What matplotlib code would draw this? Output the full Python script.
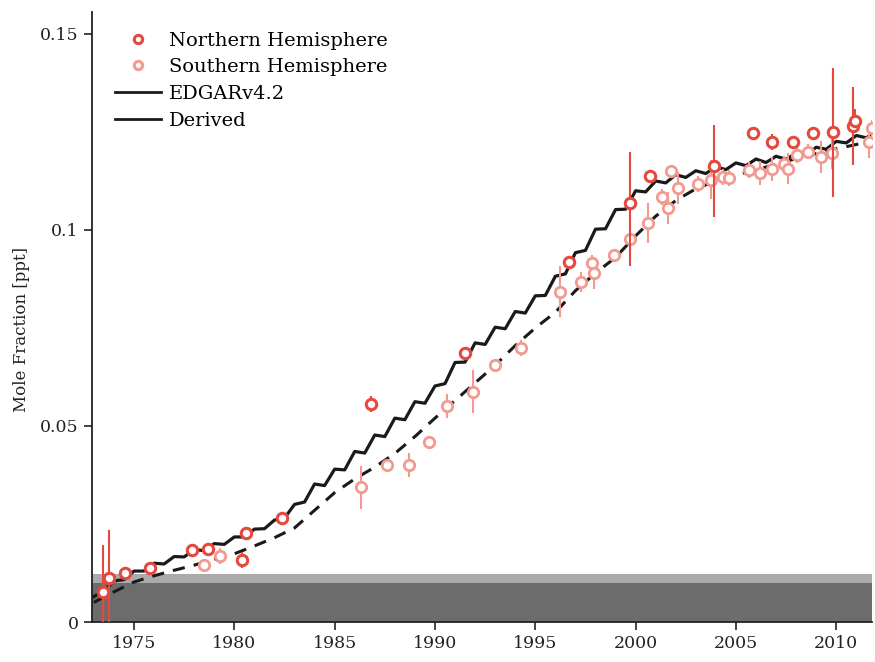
import numpy as np
import matplotlib
matplotlib.use("Agg")
import matplotlib.pyplot as plt
from matplotlib.lines import Line2D

plt.rcParams['font.family'] = ['DejaVu Serif']

###DATA###
# EDGARv4.2 (solid, with seasonal wiggle) - half year steps
edgar_years = [1973.0, 1973.5, 1974.0, 1974.5, 1975.0, 1975.5, 1976.0, 1976.5, 1977.0, 1977.5,
               1978.0, 1978.5, 1979.0, 1979.5, 1980.0, 1980.5, 1981.0, 1981.5, 1982.0, 1982.5,
               1983.0, 1983.5, 1984.0, 1984.5, 1985.0, 1985.5, 1986.0, 1986.5, 1987.0, 1987.5,
               1988.0, 1988.5, 1989.0, 1989.5, 1990.0, 1990.5, 1991.0, 1991.5, 1992.0, 1992.5,
               1993.0, 1993.5, 1994.0, 1994.5, 1995.0, 1995.5, 1996.0, 1996.5, 1997.0, 1997.5,
               1998.0, 1998.5, 1999.0, 1999.5, 2000.0, 2000.5, 2001.0, 2001.5, 2002.0, 2002.5,
               2003.0, 2003.5, 2004.0, 2004.5, 2005.0, 2005.5, 2006.0, 2006.5, 2007.0, 2007.5,
               2008.0, 2008.5, 2009.0, 2009.5, 2010.0, 2010.5, 2011.0, 2011.5, 2011.8]
edgar_vals = [0.0065, 0.0080, 0.0105, 0.0108, 0.0130, 0.0130, 0.0150, 0.0148, 0.0167, 0.0166,
              0.0185, 0.0182, 0.0200, 0.0198, 0.0217, 0.0217, 0.0237, 0.0238, 0.0260, 0.0265,
              0.0300, 0.0306, 0.0352, 0.0348, 0.0390, 0.0388, 0.0435, 0.0431, 0.0477, 0.0473,
              0.0520, 0.0516, 0.0562, 0.0558, 0.0602, 0.0608, 0.0662, 0.0663, 0.0712, 0.0708,
              0.0752, 0.0748, 0.0792, 0.0788, 0.0832, 0.0833, 0.0882, 0.0888, 0.0942, 0.0948,
              0.1002, 0.1003, 0.1052, 0.1053, 0.1100, 0.1097, 0.1125, 0.1120, 0.1141, 0.1134,
              0.1151, 0.1144, 0.1161, 0.1154, 0.1171, 0.1164, 0.1181, 0.1172, 0.1188, 0.1180,
              0.1196, 0.1191, 0.1211, 0.1206, 0.1226, 0.1222, 0.1241, 0.1235, 0.1245]

# Derived (dashed)
derived_years = [1973.0, 1974.0, 1975.0, 1976.0, 1977.0, 1978.0, 1979.0, 1980.0, 1981.0, 1982.0,
                 1983.0, 1984.0, 1985.0, 1986.0, 1987.0, 1988.0, 1989.0, 1990.0, 1991.0, 1992.0,
                 1993.0, 1994.0, 1995.0, 1996.0, 1997.0, 1998.0, 1999.0, 2000.0, 2001.0, 2002.0,
                 2003.0, 2004.0, 2005.0, 2006.0, 2007.0, 2008.0, 2009.0, 2010.0, 2011.0, 2011.8]
derived_vals = [0.0050, 0.0077, 0.0102, 0.0118, 0.0132, 0.0145, 0.0160, 0.0174, 0.0194, 0.0215,
                0.0240, 0.0285, 0.0330, 0.0365, 0.0395, 0.0430, 0.0473, 0.0520, 0.0565, 0.0610,
                0.0655, 0.0705, 0.0750, 0.0790, 0.0845, 0.0890, 0.0930, 0.0985, 0.1035, 0.1075,
                0.1105, 0.1125, 0.1140, 0.1153, 0.1168, 0.1182, 0.1195, 0.1207, 0.1218, 0.1226]

# Northern Hemisphere obs
nh_years = [1973.45, 1973.75, 1974.55, 1975.8, 1977.9, 1978.7, 1980.4, 1980.6, 1982.4, 1986.8,
            1991.5, 1996.7, 1999.7, 2000.7, 2003.9, 2005.85, 2006.8, 2007.85, 2008.85, 2009.85,
            2010.85, 2010.95]
nh_vals = [0.0077, 0.0112, 0.0125, 0.0138, 0.0183, 0.0185, 0.0158, 0.0226, 0.0265, 0.0556,
           0.0686, 0.0918, 0.1068, 0.1138, 0.1163, 0.1247, 0.1224, 0.1224, 0.1247, 0.1250,
           0.1265, 0.1278]
nh_err_lo = [0.0100, 0.0120, 0.0010, 0.0007, 0.0010, 0.0010, 0.0020, 0.0010, 0.0015, 0.0020,
             0.0010, 0.0010, 0.0160, 0.0010, 0.0130, 0.0015, 0.0020, 0.0015, 0.0010, 0.0165,
             0.0100, 0.0030]
nh_err_hi = [0.0120, 0.0123, 0.0010, 0.0007, 0.0010, 0.0010, 0.0020, 0.0010, 0.0015, 0.0020,
             0.0010, 0.0010, 0.0130, 0.0010, 0.0105, 0.0015, 0.0020, 0.0015, 0.0010, 0.0163,
             0.0100, 0.0030]

# Southern Hemisphere obs
sh_years = [1978.5, 1979.3, 1986.3, 1987.6, 1988.7, 1989.7, 1990.6, 1991.9, 1993.0, 1994.3,
            1996.25, 1997.3, 1997.85, 1997.95, 1998.9, 1999.7, 2000.6, 2001.3, 2001.6, 2001.75,
            2002.1, 2003.1, 2003.75, 2004.35, 2004.65, 2005.65, 2006.2, 2006.8, 2007.4, 2007.6,
            2008.05, 2008.6, 2009.25, 2009.8, 2011.65, 2011.8]
sh_vals = [0.0145, 0.0168, 0.0344, 0.0400, 0.0400, 0.0459, 0.0551, 0.0587, 0.0656, 0.0699,
           0.0842, 0.0867, 0.0916, 0.0890, 0.0936, 0.0977, 0.1018, 0.1084, 0.1056, 0.1150,
           0.1107, 0.1117, 0.1128, 0.1135, 0.1133, 0.1153, 0.1145, 0.1156, 0.1168, 0.1156,
           0.1190, 0.1200, 0.1186, 0.1196, 0.1224, 0.1260]
sh_err = [0.0010, 0.0020, 0.0055, 0.0015, 0.0030, 0.0015, 0.0030, 0.0055, 0.0010, 0.0020,
          0.0065, 0.0025, 0.0020, 0.0040, 0.0015, 0.0040, 0.0050, 0.0020, 0.0040, 0.0010,
          0.0040, 0.0020, 0.0050, 0.0020, 0.0020, 0.0020, 0.0030, 0.0030, 0.0020, 0.0040,
          0.0020, 0.0020, 0.0040, 0.0040, 0.0040, 0.0020]

# grey bands at the bottom
band_dark = (0.0, 0.0099)
band_light = (0.0099, 0.0122)

xticks = [1975, 1980, 1985, 1990, 1995, 2000, 2005, 2010]
yticks = [0, 0.05, 0.1, 0.15]
ytick_labels = ['0', '0.05', '0.1', '0.15']

NH_COL = '#e5493e'
SH_COL = '#f29a90'

###PLOT###
fig = plt.figure(figsize=(8.75, 6.62), dpi=100)
ax = fig.add_axes([0.105, 0.0604, 0.892, 0.9215])

ax.axhspan(band_dark[0], band_dark[1], color='#6c6c6c', lw=0, zorder=0)
ax.axhspan(band_light[0], band_light[1], color='#ababab', lw=0, zorder=0)

ax.plot(edgar_years, edgar_vals, color='#1a1a1a', lw=2.3, zorder=2)
ax.plot(derived_years, derived_vals, color='#1a1a1a', lw=2.2, dashes=(4, 3), zorder=2)

ax.errorbar(sh_years, sh_vals, yerr=sh_err, fmt='o', ms=7.5, mfc='white', mec=SH_COL, mew=2,
            ecolor=SH_COL, elinewidth=1.5, capsize=0, zorder=3)
ax.errorbar(nh_years, nh_vals, yerr=[nh_err_lo, nh_err_hi], fmt='o', ms=7.5, mfc='white',
            mec=NH_COL, mew=2.2, ecolor=NH_COL, elinewidth=1.5, capsize=0, zorder=4)

ax.set_xlim(1972.9, 2011.8)
ax.set_ylim(0, 0.1556)
ax.set_xticks(xticks)
ax.set_yticks(yticks)
ax.set_yticklabels(ytick_labels)
ax.tick_params(direction='out', length=6, width=1.2, labelsize=12.5, colors='#222222')
ax.set_ylabel('Mole Fraction [ppt]', fontsize=12, color='#222222')
ax.yaxis.set_label_coords(-0.079, 0.48)

for s in ['top', 'right']:
    ax.spines[s].set_visible(False)
for s in ['left', 'bottom']:
    ax.spines[s].set_linewidth(1.3)
    ax.spines[s].set_color('#222222')

handles = [
    Line2D([], [], ls='none', marker='o', ms=6, mfc='white', mec=NH_COL, mew=2.2),
    Line2D([], [], ls='none', marker='o', ms=6, mfc='white', mec=SH_COL, mew=2.2),
    Line2D([], [], color='#1a1a1a', lw=2),
    Line2D([], [], color='#1a1a1a', lw=2),
]
labels = ['Northern Hemisphere', 'Southern Hemisphere', 'EDGARv4.2', 'Derived']
ax.legend(handles, labels, loc='upper left', bbox_to_anchor=(0.029, 0.968), frameon=False,
          fontsize=14, handlelength=2.4, handletextpad=0.4, labelspacing=0.45,
          borderpad=0, borderaxespad=0)

fig.savefig('out.png', dpi=100)
